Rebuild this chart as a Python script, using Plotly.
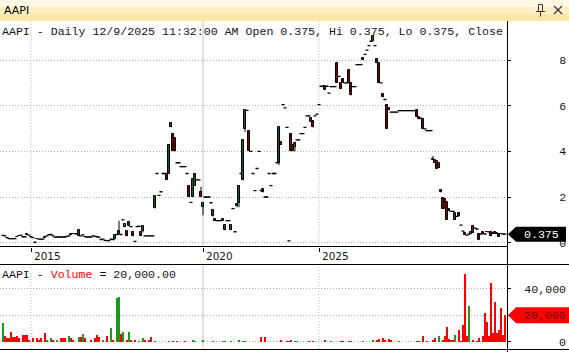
import plotly.graph_objects as go

symbol = "AAPI"
stamp = "12/9/2025 11:32:00 AM"

opens = [
    0.32, 0.30, 0.22, 0.18, 0.18, 0.18, 0.18, 0.27, 0.29, 0.33,
    0.26, 0.26, 0.36, 0.33, 0.26, 0.22, 0.02, 0.17, 0.16, 0.16,
    0.16, 0.23, 0.30, 0.35, 0.36, 0.30, 0.24, 0.25, 0.25, 0.25,
    0.25, 0.25, 0.28, 0.30, 0.36, 0.39, 0.40, 0.38, 0.30, 0.30,
    0.34, 0.27, 0.25, 0.25, 0.25, 0.30, 0.28, 0.26, 0.24, 0.14,
    0.16, 0.10, 0.09, 0.09, 0.15, 0.14, 0.16, 0.36, 0.36, 0.36,
    1.00, 0.68, 0.50, 0.75, 0.70, 0.48, 0.06, 0.70, 0.72, 0.45,
    0.50, 0.30, 0.30, 0.30, 0.30, 0.30, 1.50, 3.03, 2.07, 2.23,
    3.03, 3.03, 3.03, 3.03, 5.05, 4.78, 4.60, 3.50, 3.50, 3.33,
    3.33, 3.33, 3.03, 2.50, 1.77, 2.00, 2.50, 2.75, 2.75, 2.20,
    1.57, 2.00, 2.00, 2.00, 1.75, 1.15, 1.05, 0.97, 0.97, 0.97,
    0.97, 0.54, 0.97, 0.97, 0.54, 1.49, 0.48, 1.60, 1.75, 3.03,
    2.73, 5.00, 5.79, 4.90, 4.00, 3.03, 2.28, 3.25, 4.00, 2.28,
    2.35, 2.00, 2.00, 3.03, 2.50, 3.03, 3.03, 3.50, 3.50, 4.42,
    6.05, 5.90, 5.05, 0.08, 4.78, 4.30, 4.20, 4.50, 4.50, 4.78,
    4.78, 5.05, 5.55, 5.55, 5.30, 5.35, 5.55, 5.63, 6.05, 6.85,
    6.85, 6.85, 6.85, 6.55, 6.83, 6.83, 6.83, 7.85, 7.28, 7.00,
    7.18, 7.00, 7.00, 7.55, 7.00, 6.83, 6.83, 7.80, 7.80, 7.80,
    8.00, 8.25, 8.43, 8.63, 8.82, 8.82, 8.63, 8.03, 7.85, 7.00,
    6.53, 6.27, 6.02, 5.90, 5.72, 5.72, 5.72, 5.72, 5.78, 5.78,
    5.78, 5.78, 5.78, 5.78, 5.78, 5.78, 5.78, 5.80, 5.50, 5.45,
    5.40, 4.98, 4.91, 4.91, 4.91, 3.67, 3.62, 3.56, 3.27, 2.32,
    1.97, 1.90, 1.80, 1.49, 1.37, 1.37, 1.00, 1.15, 1.30, 0.77,
    0.51, 0.42, 0.33, 0.38, 0.45, 0.71, 0.64, 0.60, 0.38, 0.38,
    0.45, 0.38, 0.48, 0.47, 0.47, 0.41, 0.45, 0.41, 0.38, 0.39,
    0.38, 0.375,
]
highs = [
    0.32, 0.30, 0.22, 0.18, 0.18, 0.18, 0.18, 0.27, 0.29, 0.33,
    0.26, 0.26, 0.36, 0.33, 0.26, 0.22, 0.02, 0.17, 0.16, 0.16,
    0.16, 0.23, 0.30, 0.35, 0.36, 0.30, 0.24, 0.25, 0.25, 0.25,
    0.25, 0.25, 0.28, 0.30, 0.36, 0.39, 0.40, 0.38, 0.56, 0.30,
    0.34, 0.27, 0.25, 0.25, 0.25, 0.30, 0.28, 0.26, 0.24, 0.14,
    0.16, 0.10, 0.09, 0.09, 0.15, 0.14, 0.34, 0.36, 0.96, 0.36,
    1.00, 0.80, 0.50, 0.92, 0.70, 0.48, 0.06, 0.70, 0.72, 0.45,
    0.72, 0.30, 0.30, 0.30, 0.30, 0.30, 2.03, 3.03, 2.07, 2.23,
    3.03, 3.03, 3.03, 4.30, 5.26, 4.78, 4.60, 3.50, 3.50, 3.33,
    3.33, 3.33, 3.03, 2.50, 1.77, 2.80, 3.03, 2.75, 2.75, 2.45,
    1.75, 2.00, 2.00, 2.00, 1.75, 1.42, 1.05, 0.97, 0.97, 0.97,
    1.05, 0.79, 0.97, 0.97, 0.79, 1.49, 0.48, 1.68, 2.50, 3.03,
    4.50, 5.79, 5.79, 4.90, 4.00, 3.03, 2.28, 3.25, 4.00, 2.28,
    2.35, 2.00, 2.00, 3.03, 2.50, 3.03, 3.03, 3.50, 5.05, 4.42,
    6.05, 5.90, 5.05, 0.08, 4.78, 4.30, 4.38, 4.50, 4.50, 4.78,
    4.78, 5.05, 5.55, 5.55, 5.45, 5.35, 5.55, 5.63, 6.05, 6.85,
    6.85, 6.85, 6.85, 6.55, 6.83, 6.83, 6.83, 7.85, 7.28, 7.00,
    7.18, 7.00, 7.00, 7.55, 7.00, 6.83, 6.83, 7.80, 7.80, 7.80,
    8.10, 8.25, 8.43, 8.63, 8.82, 9.03, 8.63, 8.03, 7.85, 7.00,
    6.53, 6.27, 6.02, 5.90, 5.72, 5.72, 5.72, 5.72, 5.78, 5.78,
    5.78, 5.78, 5.78, 5.78, 5.78, 5.78, 5.78, 5.80, 5.50, 5.45,
    5.40, 4.98, 4.91, 4.91, 4.91, 3.80, 3.62, 3.56, 3.49, 2.32,
    1.97, 1.90, 1.80, 1.49, 1.37, 1.37, 1.30, 1.15, 1.30, 0.77,
    0.51, 0.42, 0.33, 0.38, 0.45, 0.71, 0.64, 0.60, 0.38, 0.38,
    0.45, 0.38, 0.48, 0.47, 0.47, 0.41, 0.45, 0.41, 0.38, 0.39,
    0.38, 0.375,
]
lows = [
    0.32, 0.30, 0.22, 0.18, 0.18, 0.18, 0.18, 0.26, 0.28, 0.33,
    0.26, 0.26, 0.35, 0.33, 0.26, 0.22, 0.02, 0.16, 0.16, 0.16,
    0.16, 0.22, 0.30, 0.35, 0.36, 0.30, 0.24, 0.25, 0.25, 0.25,
    0.25, 0.25, 0.28, 0.30, 0.35, 0.38, 0.40, 0.38, 0.28, 0.30,
    0.34, 0.27, 0.25, 0.25, 0.25, 0.30, 0.28, 0.26, 0.24, 0.14,
    0.16, 0.10, 0.09, 0.09, 0.15, 0.14, 0.15, 0.36, 0.34, 0.36,
    1.00, 0.68, 0.28, 0.72, 0.70, 0.28, 0.06, 0.70, 0.72, 0.30,
    0.45, 0.30, 0.30, 0.30, 0.30, 0.30, 1.50, 3.03, 2.07, 2.23,
    3.03, 3.03, 2.75, 3.03, 5.05, 4.00, 4.00, 3.50, 3.50, 3.33,
    3.33, 3.33, 3.03, 2.00, 1.77, 2.00, 2.50, 2.75, 2.75, 2.00,
    1.20, 2.00, 2.00, 2.00, 1.75, 1.15, 0.97, 0.97, 0.97, 0.97,
    0.97, 0.54, 0.97, 0.97, 0.54, 1.49, 0.48, 1.55, 1.55, 3.03,
    2.73, 4.85, 5.79, 4.00, 4.00, 3.03, 2.28, 3.25, 4.00, 2.28,
    2.20, 2.00, 2.00, 3.03, 2.50, 3.03, 3.03, 3.50, 3.40, 4.30,
    6.05, 5.90, 5.05, 0.08, 4.00, 4.00, 4.00, 4.50, 4.50, 4.78,
    4.78, 5.05, 5.55, 5.55, 5.30, 5.05, 5.55, 5.63, 6.05, 6.85,
    6.85, 6.70, 6.85, 6.55, 6.83, 6.83, 6.83, 7.00, 7.28, 6.75,
    7.00, 7.00, 7.00, 7.00, 6.45, 6.83, 6.83, 7.80, 7.80, 7.80,
    8.00, 8.25, 8.43, 8.63, 8.82, 8.82, 8.63, 7.85, 7.00, 7.00,
    6.37, 6.27, 5.00, 5.80, 5.72, 5.72, 5.72, 5.72, 5.78, 5.78,
    5.78, 5.78, 5.78, 5.78, 5.78, 5.78, 5.78, 5.50, 5.40, 5.45,
    5.00, 4.98, 4.91, 4.91, 4.91, 3.62, 3.50, 3.23, 3.27, 2.20,
    1.49, 1.49, 1.00, 1.38, 1.37, 1.37, 1.00, 1.15, 1.15, 0.77,
    0.51, 0.33, 0.33, 0.38, 0.38, 0.42, 0.64, 0.60, 0.13, 0.38,
    0.38, 0.38, 0.47, 0.47, 0.28, 0.40, 0.38, 0.40, 0.26, 0.38,
    0.38, 0.375,
]
closes = [
    0.32, 0.30, 0.22, 0.18, 0.18, 0.18, 0.18, 0.26, 0.28, 0.33,
    0.26, 0.26, 0.35, 0.33, 0.26, 0.22, 0.02, 0.16, 0.16, 0.16,
    0.16, 0.22, 0.30, 0.35, 0.36, 0.30, 0.24, 0.25, 0.25, 0.25,
    0.25, 0.25, 0.28, 0.30, 0.35, 0.38, 0.40, 0.38, 0.54, 0.30,
    0.34, 0.27, 0.25, 0.25, 0.25, 0.30, 0.28, 0.26, 0.24, 0.14,
    0.16, 0.10, 0.09, 0.09, 0.15, 0.14, 0.34, 0.36, 0.52, 0.36,
    1.00, 0.80, 0.28, 0.92, 0.70, 0.28, 0.06, 0.70, 0.72, 0.30,
    0.72, 0.30, 0.30, 0.30, 0.30, 0.30, 2.03, 3.03, 2.07, 2.23,
    3.03, 3.03, 2.75, 4.30, 5.26, 4.00, 4.00, 3.50, 3.50, 3.33,
    3.33, 3.33, 3.03, 2.00, 1.77, 2.80, 3.03, 2.75, 2.75, 2.00,
    1.75, 2.00, 2.00, 2.00, 1.75, 1.42, 0.97, 0.97, 0.97, 0.97,
    1.05, 0.79, 0.97, 0.97, 0.79, 1.49, 0.48, 1.68, 2.50, 3.03,
    4.50, 5.79, 5.79, 4.00, 4.00, 3.03, 2.28, 3.25, 4.00, 2.28,
    2.20, 2.00, 2.00, 3.03, 2.50, 3.03, 3.03, 3.50, 5.05, 4.30,
    6.05, 5.90, 5.05, 0.08, 4.00, 4.00, 4.38, 4.50, 4.50, 4.78,
    4.78, 5.05, 5.55, 5.55, 5.45, 5.05, 5.55, 5.63, 6.05, 6.85,
    6.85, 6.70, 6.85, 6.55, 6.83, 6.83, 6.83, 7.00, 7.28, 6.75,
    7.00, 7.00, 7.00, 7.00, 6.45, 6.83, 6.83, 7.80, 7.80, 7.80,
    8.10, 8.25, 8.43, 8.63, 8.82, 9.03, 8.63, 7.85, 7.00, 7.00,
    6.37, 6.27, 5.00, 5.80, 5.72, 5.72, 5.72, 5.72, 5.78, 5.78,
    5.78, 5.78, 5.78, 5.78, 5.78, 5.78, 5.78, 5.50, 5.40, 5.45,
    5.00, 4.98, 4.91, 4.91, 4.91, 3.62, 3.50, 3.23, 3.49, 2.20,
    1.49, 1.49, 1.00, 1.38, 1.37, 1.37, 1.30, 1.15, 1.15, 0.77,
    0.51, 0.33, 0.33, 0.38, 0.38, 0.42, 0.64, 0.60, 0.13, 0.38,
    0.38, 0.38, 0.47, 0.47, 0.28, 0.40, 0.38, 0.40, 0.26, 0.38,
    0.38, 0.375,
]

# traded volume: bar number -> shares
vol_bars = [
    0, 1, 2, 3, 4, 5, 6, 7, 8, 10, 11, 12, 13, 15, 17, 18, 19, 21, 22, 24,
    25, 27, 29, 30, 31, 33, 34, 35, 38, 39, 40, 41, 44, 46, 47, 48, 50, 52, 54, 55,
    57, 58, 59, 60, 62, 63, 64, 66, 68, 70, 71, 73, 74, 76, 83, 85, 87, 91, 95, 96,
    100, 105, 110, 111, 114, 118, 120, 121, 129, 131, 139, 142, 143, 144, 146, 147, 153, 155, 161, 164,
    169, 170, 173, 174, 180, 185, 187, 188, 190, 191, 193, 194, 198, 207, 208, 210, 212, 215, 216, 218,
    220, 221, 222, 223, 224, 225, 226, 228, 229, 230, 231, 232, 233, 235, 237, 238, 240, 241, 242, 243,
    244, 245, 246, 247, 248, 249, 250, 251,
]
vol_values = [
    14300, 4300, 2500, 2500, 7300, 3500, 3500, 4300, 3000, 5000, 5000, 5000, 1000, 2500, 2500, 1500, 3000, 6700, 1000, 3000,
    1000, 1500, 3000, 3000, 3000, 4300, 2500, 1000, 3500, 3800, 6000, 2500, 1500, 3000, 5000, 3200, 1200, 4600, 10600, 700,
    33200, 33900, 6000, 7200, 1500, 7200, 1000, 1500, 500, 2500, 1200, 700, 3200, 500, 500, 300, 300, 300, 1000, 300,
    1000, 300, 300, 300, 300, 1200, 300, 300, 3800, 3500, 1000, 300, 300, 1000, 300, 300, 300, 300, 1000, 300,
    300, 300, 300, 300, 300, 1000, 700, 2200, 3000, 1500, 1800, 1000, 300, 500, 500, 4000, 300, 1500, 2500, 4000,
    1500, 4000, 10900, 1800, 700, 1500, 5000, 8800, 500, 12800, 51100, 4000, 26900, 1000, 500, 3000, 4600, 21900, 15100, 4000,
    44000, 6700, 30200, 6700, 8800, 25200, 5000, 20000,
]

year_labels = ["2015", "2020", "2025"]
year_bars = [14, 100, 158]
price_ticks = [0, 2, 4, 6, 8]
volume_ticks = [0, 20000, 40000]

# ---------------------------------------------------------------- derived
N = len(closes)
bars = list(range(N))
volumes = [0] * N
for b, v in zip(vol_bars, vol_values):
    volumes[b] = v

GREEN = "#2eb82e"
GREEN_V = "#1a9a1a"
RED = "#ff0000"
vcolors = []
for i in range(N):
    o, c = opens[i], closes[i]
    if c > o:
        up = True
    elif c < o:
        up = False
    else:
        up = (i == 0) or (c > closes[i - 1])
    vcolors.append(GREEN_V if up else RED)

W, H = 569, 352
ML, MR, MT, MB = 0, 62, 21, 3
PW = W - ML - MR
PH = H - MT - MB


def py(ypx):
    return (H - MB - ypx) / PH


def px(xpx):
    return (xpx - ML) / PW


p_ppu = (242.7 - 60.0) / 8.0
price_range = [-(246.7 - 242.7) / p_ppu, (242.7 - 21.0) / p_ppu]
v_ppu = (341.7 - 288.7) / 40000.0
vol_range = [-(349.0 - 341.7) / v_ppu, (341.7 - 264.0) / v_ppu]
x_range = [-1.5, N]

MONO = "Liberation Mono, Courier New, monospace"
SANS = "DejaVu Sans, Verdana, sans-serif"
TXT = "#141420"

# candle parts built from OHLC
wick_x, wick_y = [], []
dash_x, dash_y = [], []
body_x, body_base, body_h, body_col = [], [], [], []
for i in bars:
    o, h, l, c = opens[i], highs[i], lows[i], closes[i]
    if h > l:
        wick_x += [i, i, None]
        wick_y += [l, h, None]
    if o == c:
        dash_x += [i - 0.75, i + 0.75, None]
        dash_y += [c, c, None]
    else:
        body_x.append(i)
        body_base.append(min(o, c))
        body_h.append(abs(c - o))
        body_col.append(GREEN if c > o else RED)

fig = go.Figure()
fig.add_trace(go.Scatter(x=wick_x, y=wick_y, mode="lines", line=dict(color="black", width=1),
                         xaxis="x", yaxis="y", showlegend=False, hoverinfo="skip"))
fig.add_trace(go.Scatter(x=dash_x, y=dash_y, mode="lines", line=dict(color="black", width=1.3),
                         xaxis="x", yaxis="y", showlegend=False, hoverinfo="skip"))
fig.add_trace(go.Bar(x=body_x, y=body_h, base=body_base, width=1.3,
                     marker=dict(color=body_col, line=dict(color="black", width=1)),
                     xaxis="x", yaxis="y", showlegend=False, hoverinfo="skip"))
fig.add_trace(go.Bar(x=bars, y=volumes, width=1.0,
                     marker=dict(color=vcolors, line=dict(width=0)),
                     xaxis="x2", yaxis="y2", showlegend=False, hoverinfo="skip"))

dot = "1px,2px"
grid = "#b4b4b4"
last_close = closes[-1]
last_vol = volumes[-1]
nb = "\u00a0"


def vlabel(t):
    if abs(t - last_vol) * v_ppu < 4:
        return ""
    return f"{t:,}".rjust(6, nb)


fig.update_layout(
    width=W, height=H,
    margin=dict(l=ML, r=MR, t=MT, b=MB, pad=0),
    paper_bgcolor="white", plot_bgcolor="white",
    barmode="overlay", bargap=0, showlegend=False,
    xaxis=dict(domain=[0, 1], range=x_range, anchor="y", tickvals=year_bars,
               ticks="outside", ticklen=4, tickcolor="black", tickwidth=1,
               showticklabels=False, showgrid=False, zeroline=False, showline=False,
               fixedrange=True),
    xaxis2=dict(domain=[0, 1], range=x_range, anchor="y2", showticklabels=False,
                ticks="", showgrid=False, zeroline=False, showline=False, fixedrange=True),
    yaxis=dict(domain=[py(246.7), py(21)], range=price_range, side="right", anchor="x",
               tickvals=price_ticks, ticktext=[f"{t:g}" for t in price_ticks],
               ticks="outside", ticklen=3, tickcolor="black", ticklabelstandoff=46,
               tickfont=dict(family=MONO, size=11.6, color=TXT),
               showgrid=True, gridcolor=grid, griddash=dot,
               gridwidth=1, zeroline=False, showline=False, fixedrange=True),
    yaxis2=dict(domain=[py(349), py(264)], range=vol_range, side="right", anchor="x2",
                tickvals=volume_ticks, ticktext=[vlabel(t) for t in volume_ticks],
                ticks="outside", ticklen=3, tickcolor="black", ticklabelstandoff=11,
                tickfont=dict(family=MONO, size=11.6, color=TXT),
                showgrid=True, gridcolor=grid, griddash=dot,
                gridwidth=1, zeroline=False, showline=False, fixedrange=True),
)

shapes = []
for lab, b in zip(year_labels, year_bars):
    solid = lab == "2020"
    ln = dict(color="#c4c4c4", width=1) if solid else dict(color=grid, width=1, dash=dot)
    for xr, yr in (("x", "y domain"), ("x2", "y2 domain")):
        shapes.append(dict(type="line", xref=xr, yref=yr, x0=b, x1=b, y0=0, y1=1,
                           line=ln, layer="below"))

bands = [(0, 7, "#fff8e6"), (7, 14, "#fdeec4"), (14, 21, "#fce6a6")]
for y0, y1, col in bands:
    shapes.append(dict(type="rect", xref="paper", yref="paper", x0=px(0), x1=px(W),
                       y0=py(y1), y1=py(y0), fillcolor=col, line=dict(width=0), layer="above"))
ic = "#3a3a3a"
shapes += [
    dict(type="rect", xref="paper", yref="paper", x0=px(538.5), x1=px(542.5),
         y0=py(11.5), y1=py(4.5), line=dict(color=ic, width=1), fillcolor="rgba(0,0,0,0)"),
    dict(type="line", xref="paper", yref="paper", x0=px(536), x1=px(545),
         y0=py(11.5), y1=py(11.5), line=dict(color=ic, width=1)),
    dict(type="line", xref="paper", yref="paper", x0=px(540.5), x1=px(540.5),
         y0=py(11.5), y1=py(16.5), line=dict(color=ic, width=1)),
    dict(type="line", xref="paper", yref="paper", x0=px(554), x1=px(562),
         y0=py(6), y1=py(14), line=dict(color=ic, width=1.3)),
    dict(type="line", xref="paper", yref="paper", x0=px(554), x1=px(562),
         y0=py(14), y1=py(6), line=dict(color=ic, width=1.3)),
]
blk = dict(color="black", width=1)
shapes += [
    dict(type="line", xref="paper", yref="paper", x0=px(0), x1=1, y0=py(246.5), y1=py(246.5), line=blk, layer="above"),
    dict(type="line", xref="paper", yref="paper", x0=px(0), x1=px(W), y0=py(264.5), y1=py(264.5), line=blk, layer="above"),
    dict(type="line", xref="paper", yref="paper", x0=px(0), x1=px(W), y0=py(349.5), y1=py(349.5), line=blk, layer="above"),
    dict(type="line", xref="paper", yref="paper", x0=px(507.5), x1=px(507.5), y0=py(H), y1=py(21), line=blk, layer="above"),
]
shapes.append(dict(type="path", xref="paper", yref="y", xsizemode="pixel", ysizemode="pixel",
                   xanchor=1, yanchor=last_close,
                   path="M 1 0 L 9 7.5 L 59 7.5 L 59 -7.5 L 9 -7.5 Z",
                   fillcolor="black", line=dict(width=0), layer="above"))
shapes.append(dict(type="path", xref="paper", yref="y2", xsizemode="pixel", ysizemode="pixel",
                   xanchor=1, yanchor=last_vol,
                   path="M 1 0 L 9 8 L 63 8 L 63 -8 L 9 -8 Z",
                   fillcolor=RED, line=dict(width=0), layer="above"))
fig.update_layout(shapes=shapes)

ann = []
ann.append(dict(text=symbol, xref="paper", yref="paper", x=px(2), y=py(10.5),
                xanchor="left", yanchor="middle", showarrow=False,
                font=dict(family=SANS, size=11, color="black")))
header = (f"{symbol} - Daily {stamp} Open {opens[-1]:.3f}, Hi {highs[-1]:.3f}, "
          f"Lo {lows[-1]:.3f}, Close {closes[-1]:.3f}")
ann.append(dict(text=header, xref="paper", yref="paper", x=px(0), y=py(31.5),
                xanchor="left", yanchor="middle", showarrow=False, width=502, align="left",
                font=dict(family=MONO, size=11.6, color=TXT)))
vheader = f"{symbol} - <span style='color:{RED}'>Volume</span> = {last_vol:,.2f}"
ann.append(dict(text=vheader, xref="paper", yref="paper", x=px(0), y=py(274),
                xanchor="left", yanchor="middle", showarrow=False, align="left",
                font=dict(family=MONO, size=11.6, color=TXT)))
for lab, b in zip(year_labels, year_bars):
    ann.append(dict(text=lab, xref="x", yref="paper", x=b, y=py(255.5), xanchor="left",
                    yanchor="middle", xshift=1, showarrow=False,
                    font=dict(family=SANS, size=10.5, color=TXT)))
ann.append(dict(text=f"{last_close:.3f}", xref="paper", yref="y", x=px(522), y=last_close,
                xanchor="left", yanchor="middle", showarrow=False,
                font=dict(family=MONO, size=11.6, color="white")))
ann.append(dict(text=f"{last_vol:,}", xref="paper", yref="y2", x=px(522), y=last_vol,
                xanchor="left", yanchor="middle", showarrow=False,
                font=dict(family=MONO, size=11.6, color="#6a0000")))
fig.update_layout(annotations=ann)

fig.write_html("out.html", config={"displayModeBar": False})
